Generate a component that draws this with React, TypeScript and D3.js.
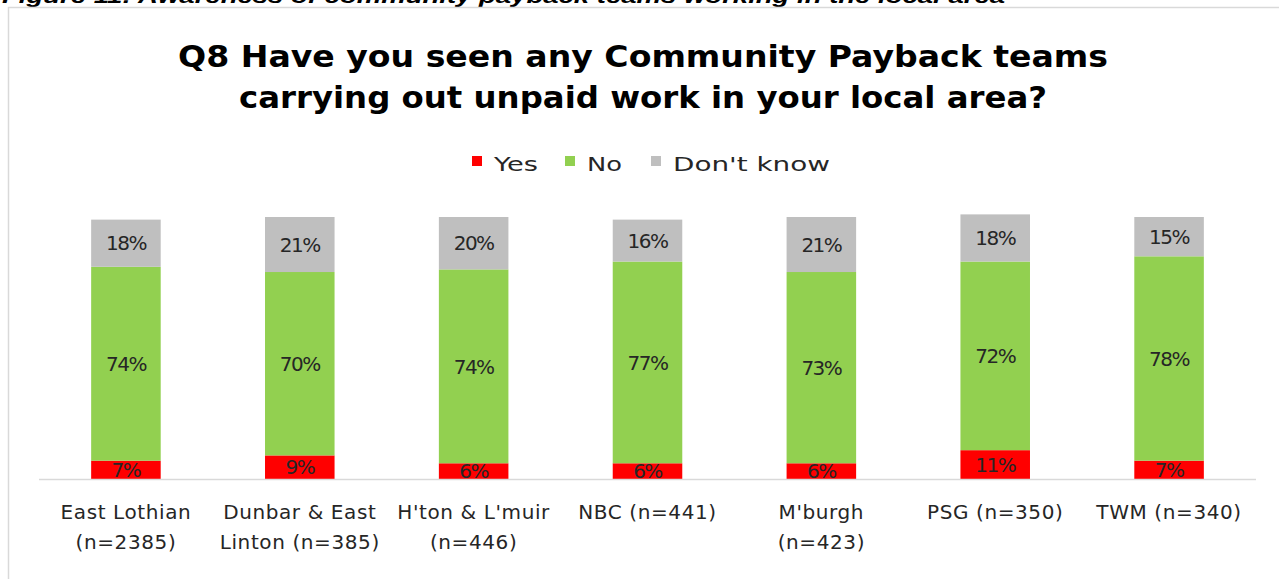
import { useEffect, useRef } from 'react'
import * as d3 from 'd3'

const categories = [
  ['East Lothian', '(n=2385)'],
  ['Dunbar & East', 'Linton  (n=385)'],
  ["H'ton & L'muir", '(n=446)'],
  ['NBC  (n=441)'],
  ["M'burgh", '(n=423)'],
  ['PSG  (n=350)'],
  ['TWM  (n=340)'],
]
const yesValues = [7, 9, 6, 6, 6, 11, 7]
const noValues = [74, 70, 74, 77, 73, 72, 78]
const dontKnowValues = [18, 21, 20, 16, 21, 18, 15]
const seriesNames = ['Yes', 'No', "Don't know"]
const seriesColors = ['#ff0000', '#92d050', '#bfbfbf']

const FONT = '"DejaVu Sans", sans-serif'

export default function App() {
  const ref = useRef<SVGSVGElement>(null)

  useEffect(() => {
    if (!ref.current) return
    const svg = d3.select(ref.current)
    svg.selectAll('*').remove()

    const W = 1279
    const H = 579

    svg.append('rect').attr('width', W).attr('height', H).attr('fill', '#fff')

    // caption above the chart frame (cut by the page top, as in the source)
    svg.append('text')
      .attr('x', 2).attr('y', 3)
      .attr('textLength', 1003).attr('lengthAdjust', 'spacingAndGlyphs')
      .style('font-family', '"Liberation Sans", Arial, sans-serif')
      .style('font-weight', 'bold').style('font-style', 'italic')
      .style('font-size', '20px').attr('fill', '#000')
      .text('Figure 11: Awareness of community payback teams working in the local area')

    // chart frame
    svg.append('rect')
      .attr('x', 8.5).attr('y', 7.5).attr('width', W + 20).attr('height', H + 20)
      .attr('fill', 'none').attr('stroke', '#d9d9d9').attr('stroke-width', 1.5)

    // title
    const title = svg.append('text')
      .attr('text-anchor', 'middle')
      .style('font-family', FONT).style('font-weight', 'bold')
      .style('font-size', '30px').attr('fill', '#000')
    title.append('tspan').attr('x', 643).attr('y', 67)
      .attr('textLength', 930).attr('lengthAdjust', 'spacingAndGlyphs')
      .text('Q8 Have you seen any Community Payback teams')
    title.append('tspan').attr('x', 643).attr('y', 108)
      .attr('textLength', 808).attr('lengthAdjust', 'spacingAndGlyphs')
      .text('carrying out unpaid work in your local area?')

    // legend
    const legendItems = [
      { x: 472, tx: 494, w: 44 },
      { x: 565, tx: 587, w: 35 },
      { x: 651, tx: 673, w: 157 },
    ]
    legendItems.forEach((it, i) => {
      svg.append('rect').attr('x', it.x).attr('y', 156).attr('width', 10).attr('height', 10)
        .attr('fill', seriesColors[i])
      svg.append('text').attr('x', it.tx).attr('y', 171)
        .attr('textLength', it.w).attr('lengthAdjust', 'spacingAndGlyphs')
        .style('font-family', FONT).style('font-size', '20px').attr('fill', '#262626')
        .text(seriesNames[i])
    })

    const x = d3.scaleBand<number>()
      .domain(d3.range(categories.length))
      .range([39, 1256])
      .paddingInner(0.6)
      .paddingOuter(0.3)

    const y = d3.scaleLinear().domain([0, 100]).range([479, 217])

    const rows = categories.map((_, i) => ({
      i,
      yes: yesValues[i],
      no: noValues[i],
      dk: dontKnowValues[i],
    }))
    const stack = d3.stack<any>().keys(['yes', 'no', 'dk'])(rows)

    const g = svg.append('g')
    stack.forEach((layer, li) => {
      layer.forEach((d) => {
        const i = d.data.i
        g.append('rect')
          .attr('x', x(i)!).attr('width', x.bandwidth())
          .attr('y', y(d[1])).attr('height', y(d[0]) - y(d[1]))
          .attr('fill', seriesColors[li])
        g.append('text')
          .attr('x', x(i)! + x.bandwidth() / 2)
          .attr('y', (y(d[0]) + y(d[1])) / 2)
          .attr('dy', '0.36em')
          .attr('text-anchor', 'middle')
          .style('font-family', FONT).style('font-size', '20px')
          .style('letter-spacing', '-1.5px')
          .attr('fill', '#262626')
          .text(`${d[1] - d[0]}%`)
      })
    })

    // axis line
    svg.append('line')
      .attr('x1', 39).attr('x2', 1256).attr('y1', 479.5).attr('y2', 479.5)
      .attr('stroke', '#d9d9d9').attr('stroke-width', 1.5)

    // category labels
    categories.forEach((lines, i) => {
      const t = svg.append('text')
        .attr('text-anchor', 'middle')
        .style('font-family', FONT).style('font-size', '20px')
        .style('letter-spacing', '0.6px')
        .attr('fill', '#262626')
      lines.forEach((ln, k) => {
        t.append('tspan')
          .attr('x', x(i)! + x.bandwidth() / 2)
          .attr('y', 519 + k * 30)
          .text(ln)
      })
    })
  }, [])

  return (
    <svg
      ref={ref}
      width={1279}
      height={579}
      style={{ position: 'absolute', left: 0, top: 0, display: 'block' }}
    />
  )
}
